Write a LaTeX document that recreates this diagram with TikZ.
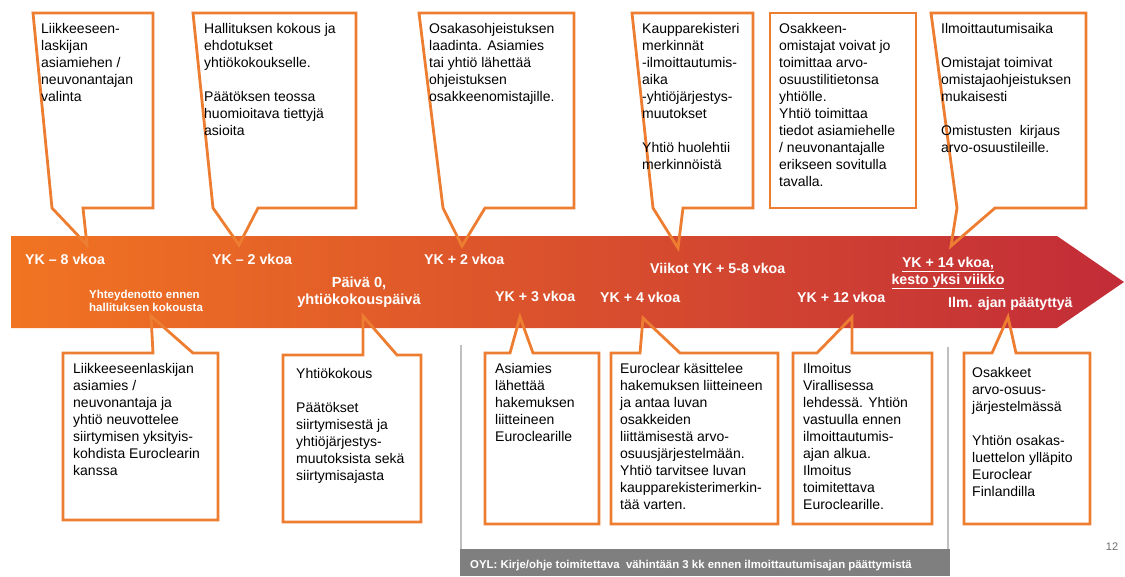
\documentclass[tikz,border=0pt]{standalone}
\usepackage{fontspec}
\setmainfont{Liberation Sans}
\usetikzlibrary{calc}

\definecolor{rimorange}{RGB}{237,125,49}
\definecolor{bandA}{RGB}{241,116,34}
\definecolor{bandB}{RGB}{219,84,44}
\definecolor{bandC}{RGB}{194,44,56}
\definecolor{barGrey}{RGB}{127,127,127}
\definecolor{frameGrey}{RGB}{191,191,191}
\definecolor{pageGrey}{RGB}{110,110,110}

\begin{document}
\begin{tikzpicture}[x=1pt, y=-1pt,
  rim/.style={draw=rimorange, line width=2.8pt, line join=miter, miter limit=12},
  cardframe/.style={anchor=north west, inner sep=0pt, outer sep=0pt},
  cardtext/.style={anchor=north west, inner sep=0pt, align=left,
    font=\fontsize{14}{17}\selectfont},
  tag/.style={text=white, inner sep=0pt, font=\bfseries\fontsize{14.2}{17}\selectfont},
  smalltag/.style={text=white, inner sep=0pt, font=\bfseries\fontsize{11.5}{13}\selectfont},
  frameline/.style={draw=frameGrey, line width=1.8pt},
  bartext/.style={text=white, inner sep=0pt, font=\bfseries\fontsize{11.4}{13}\selectfont},
  pagenum/.style={text=pageGrey, inner sep=0pt, font=\fontsize{11}{13}\selectfont}]

\useasboundingbox (0,0) rectangle (1125,576);

% timeline arrow
\path[left color=bandA, middle color=bandB, right color=bandC]
  (11,236) -- (1057,236) -- (1124,282) -- (1057,328) -- (11,328) -- cycle;

% frame and legal note below the middle steps
\draw[frameline] (461,345) -- (461,550);
\draw[frameline] (948,347) -- (948,576);
\fill[barGrey] (460,549) rectangle (949.5,576);
\node[bartext, anchor=west] (oyl) at (470,566)
  {OYL: Kirje/ohje toimitettava\ \ vähintään 3 kk ennen ilmoittautumisajan päättymistä};
\node[pagenum] (page) at (1112,547) {12};

% pointer tips on the timeline
\coordinate (p1) at (87,245);
\coordinate (p2) at (239,245);
\coordinate (p3) at (462,246);
\coordinate (p4) at (678,248);
\coordinate (p6) at (951,246);
\coordinate (q1) at (151,316);
\coordinate (q2) at (363,316);
\coordinate (q3) at (520,317);
\coordinate (q4) at (643,318);
\coordinate (q5) at (852,317);
\coordinate (q6) at (1008,317);

% upper cards
\node[cardframe, minimum width=120pt, minimum height=195pt] (t1) at (33,13) {};
\node[cardframe, minimum width=163pt, minimum height=195pt] (t2) at (193,13) {};
\node[cardframe, minimum width=155pt, minimum height=195pt] (t3) at (419,13) {};
\node[cardframe, minimum width=121pt, minimum height=195pt] (t4) at (632,13) {};
\node[cardframe, minimum width=146pt, minimum height=195pt] (t5) at (770,13) {};
\node[cardframe, minimum width=155pt, minimum height=195pt] (t6) at (931,13) {};

\draw[rim] (t1.north west) -- (t1.north east) -- (t1.south east)
  -- ([xshift=50pt]t1.south west) -- (p1) -- ([xshift=19pt]t1.south west) -- cycle;
\draw[rim] (t2.north west) -- (t2.north east) -- (t2.south east)
  -- ([xshift=65pt]t2.south west) -- (p2) -- ([xshift=20pt]t2.south west) -- cycle;
\draw[rim] (t3.north west) -- (t3.north east) -- (t3.south east)
  -- ([xshift=66pt]t3.south west) -- (p3) -- ([xshift=24pt]t3.south west) -- cycle;
\draw[rim] (t4.north west) -- (t4.north east) -- (t4.south east)
  -- ([xshift=51pt]t4.south west) -- (p4) -- ([xshift=21pt]t4.south west) -- cycle;
\draw[rim] (t5.north west) rectangle (t5.south east);
\draw[rim] (t6.north west) -- (t6.north east) -- (t6.south east)
  -- ([xshift=64pt]t6.south west) -- (p6) -- ([xshift=26pt]t6.south west) -- cycle;

\node[cardtext] (t1x) at ([shift={(8pt,-8pt)}]t1.north west)
  {\strut Liikkeeseen-\\laskijan\\asiamiehen /\\neuvonantajan\\valinta};
\node[cardtext] (t2x) at ([shift={(11pt,-8pt)}]t2.north west)
  {\strut Hallituksen kokous ja\\ehdotukset\\yhtiökokoukselle.\\[17pt]Päätöksen teossa\\huomioitava tiettyjä\\asioita};
\node[cardtext] (t3x) at ([shift={(10pt,-8pt)}]t3.north west)
  {\strut Osakasohjeistuksen\\laadinta. Asiamies\\tai yhtiö lähettää\\ohjeistuksen\\osakkeenomistajille.};
\node[cardtext] (t4x) at ([shift={(10pt,-8pt)}]t4.north west)
  {\strut Kaupparekisteri\\merkinnät\\-ilmoittautumis-\\aika\\-yhtiöjärjestys-\\muutokset\\[17pt]Yhtiö huolehtii\\merkinnöistä};
\node[cardtext] (t5x) at ([shift={(9pt,-8pt)}]t5.north west)
  {\strut Osakkeen-\\omistajat voivat jo\\toimittaa arvo-\\osuustilitietonsa\\yhtiölle.\\Yhtiö toimittaa\\tiedot asiamiehelle\\/ neuvonantajalle\\erikseen sovitulla\\tavalla.};
\node[cardtext] (t6x) at ([shift={(10pt,-8pt)}]t6.north west)
  {\strut Ilmoittautumisaika\\[17pt]Omistajat toimivat\\omistajaohjeistuksen\\mukaisesti\\[17pt]Omistusten\ \ kirjaus\\arvo-osuustileille.};

% lower cards
\node[cardframe, minimum width=155pt, minimum height=167pt] (b1) at (63,353) {};
\node[cardframe, minimum width=138pt, minimum height=167pt] (b2) at (283,355) {};
\node[cardframe, minimum width=114pt, minimum height=171pt] (b3) at (485,353) {};
\node[cardframe, minimum width=167pt, minimum height=171pt] (b4) at (611,353) {};
\node[cardframe, minimum width=139pt, minimum height=171pt] (b5) at (793,353) {};
\node[cardframe, minimum width=126pt, minimum height=171pt] (b6) at (964,353) {};

\draw[rim] (b1.south west) -- (b1.north west) -- ([xshift=90pt]b1.north west) -- (q1)
  -- ([xshift=130pt]b1.north west) -- (b1.north east) -- (b1.south east) -- cycle;
\draw[rim] (b2.south west) -- (b2.north west) -- ([xshift=80pt]b2.north west) -- (q2)
  -- ([xshift=114pt]b2.north west) -- (b2.north east) -- (b2.south east) -- cycle;
\draw[rim] (b3.south west) -- (b3.north west) -- ([xshift=25pt]b3.north west) -- (q3)
  -- ([xshift=48pt]b3.north west) -- (b3.north east) -- (b3.south east) -- cycle;
\draw[rim] (b4.south west) -- (b4.north west) -- ([xshift=29pt]b4.north west) -- (q4)
  -- ([xshift=69pt]b4.north west) -- (b4.north east) -- (b4.south east) -- cycle;
\draw[rim] (b5.south west) -- (b5.north west) -- ([xshift=24pt]b5.north west) -- (q5)
  -- ([xshift=59pt]b5.north west) -- (b5.north east) -- (b5.south east) -- cycle;
\draw[rim] (b6.south west) -- (b6.north west) -- ([xshift=28pt]b6.north west) -- (q6)
  -- ([xshift=52pt]b6.north west) -- (b6.north east) -- (b6.south east) -- cycle;

\node[cardtext] (b1x) at ([shift={(10pt,-8pt)}]b1.north west)
  {\strut Liikkeeseenlaskijan\\asiamies /\\neuvonantaja ja\\yhtiö neuvottelee\\siirtymisen yksityis-\\kohdista Euroclearin\\kanssa};
\node[cardtext] (b2x) at ([shift={(13pt,-11pt)}]b2.north west)
  {\strut Yhtiökokous\\[17pt]Päätökset\\siirtymisestä ja\\yhtiöjärjestys-\\muutoksista sekä\\siirtymisajasta};
\node[cardtext] (b3x) at ([shift={(10pt,-8pt)}]b3.north west)
  {\strut Asiamies\\lähettää\\hakemuksen\\liitteineen\\Euroclearille};
\node[cardtext] (b4x) at ([shift={(9pt,-8pt)}]b4.north west)
  {\strut Euroclear käsittelee\\hakemuksen liitteineen\\ja antaa luvan\\osakkeiden\\liittämisestä arvo-\\osuusjärjestelmään.\\Yhtiö tarvitsee luvan\\kaupparekisterimerkin-\\tää varten.};
\node[cardtext] (b5x) at ([shift={(10pt,-8pt)}]b5.north west)
  {\strut Ilmoitus\\Virallisessa\\lehdessä. Yhtiön\\vastuulla ennen\\ilmoittautumis-\\ajan alkua.\\Ilmoitus\\toimitettava\\Euroclearille.};
\node[cardtext] (b6x) at ([shift={(8pt,-12pt)}]b6.north west)
  {\strut Osakkeet\\arvo-osuus-\\järjestelmässä\\[17pt]Yhtiön osakas-\\luettelon ylläpito\\Euroclear\\Finlandilla};

% labels on the timeline
\node[tag, anchor=west] (l1) at (25,259) {YK – 8 vkoa};
\node[tag, anchor=west] (l2) at (212,259) {YK – 2 vkoa};
\node[tag, anchor=west] (l3) at (424,259) {YK + 2 vkoa};
\node[tag, anchor=west] (l4) at (650,268) {Viikot YK + 5-8 vkoa};
\node[tag, align=center] (l5) at (948,273)
  {\underline{YK + 14 vkoa,}\\\underline{kesto yksi viikko}};
\node[smalltag, align=left, anchor=west] (l6) at (89,301)
  {Yhteydenotto ennen\\hallituksen kokousta};
\node[tag, align=center, font=\bfseries\fontsize{14.6}{17}\selectfont] (l7) at (359,292)
  {Päivä 0,\\yhtiökokouspäivä};
\node[tag, anchor=west] (l8) at (495,296) {YK + 3 vkoa};
\node[tag, anchor=west] (l9) at (600,297) {YK + 4 vkoa};
\node[tag, anchor=west] (l10) at (797,297) {YK + 12 vkoa};
\node[tag, anchor=west] (l11) at (948,304) {Ilm. ajan päätyttyä};

\end{tikzpicture}
\end{document}
